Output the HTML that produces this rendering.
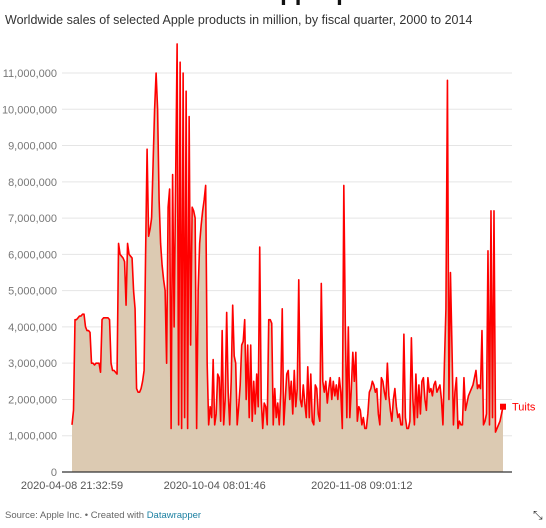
<!DOCTYPE html>
<html><head><meta charset="utf-8">
<style>
body{margin:0;width:546px;height:528px;background:#fff;font-family:"Liberation Sans",sans-serif;overflow:hidden;position:relative}
.title{position:absolute;left:165px;top:-21px;font-size:24px;font-weight:bold;color:#111;white-space:nowrap}
.sub{position:absolute;left:5px;top:13px;font-size:12.5px;color:#333;white-space:nowrap}
.foot{position:absolute;left:5px;top:510px;font-size:9.5px;color:#666}
.foot span{color:#1d81a2}
</style></head><body>
<div class="title">Sales of Apple products</div>
<div class="sub">Worldwide sales of selected Apple products in million, by fiscal quarter, 2000 to 2014</div>
<svg id="c" width="546" height="528" style="position:absolute;left:0;top:0"></svg>
<div class="foot">Source: Apple Inc. • Created with <span>Datawrapper</span></div>
<div style="position:absolute;left:533px;top:508px;font-size:12px;color:#333">⤡</div>
<script>
const values=[1.3,1.7,4.2,4.2,4.25,4.3,4.3,4.35,4.35,4.0,3.9,3.9,3.85,3.0,3.0,2.95,3.0,3.0,3.0,2.75,4.2,4.25,4.25,4.25,4.25,4.2,3.0,2.8,2.8,2.75,2.7,6.3,6.0,5.95,5.9,5.8,4.6,6.3,6.0,5.95,5.9,5.0,4.5,2.3,2.2,2.2,2.3,2.5,2.8,6.0,8.9,6.5,6.7,7.0,8.5,10.0,11.0,10.0,7.5,6.3,5.7,5.3,5.0,3.0,7.3,7.8,1.2,8.2,4.0,8.0,11.8,1.3,11.3,1.2,11.0,1.5,10.5,1.2,9.8,3.5,7.3,7.2,7.0,1.2,5.0,6.3,6.8,7.2,7.5,7.9,3.0,1.3,1.8,
1.5,3.1,1.3,1.6,2.7,2.6,1.4,3.9,1.3,2.0,4.4,2.2,1.3,2.5,4.6,3.2,3.0,1.3,1.8,2.4,3.5,3.6,4.2,2.0,3.5,1.5,3.5,1.4,2.5,1.6,2.7,1.8,6.2,2.0,1.2,1.9,1.8,1.3,4.2,4.2,4.1,1.3,2.3,1.5,1.9,1.3,2.2,4.5,1.3,2.0,2.7,2.8,2.0,2.5,1.6,2.8,1.8,2.3,5.3,2.0,1.8,2.4,1.9,1.5,2.9,1.5,2.7,1.4,1.3,2.4,2.3,1.6,1.4,5.2,2.5,2.2,2.5,1.9,2.3,2.6,2.0,2.5,2.1,2.4,2.0,2.6,2.2,1.2,7.9,4.0,1.5,4.0,1.5,2.3,3.3,2.5,3.3,1.4,1.8,1.7,1.3,1.5,1.2,1.2,1.6,2.2,2.3,2.5,2.4,2.2,2.3,1.6,1.3,2.6,2.5,2.2,2.0,3.0,2.1,1.7,1.4,2.0,2.3,1.8,1.5,1.6,1.3,1.3,3.8,1.5,1.2,1.2,1.4,3.7,2.0,1.3,2.7,1.5,2.4,1.6,2.5,2.6,2.0,1.7,2.6,2.2,2.3,2.1,2.4,2.5,2.2,2.3,2.4,2.0,1.3,3.0,4.5,10.8,2.0,5.5,3.5,1.3,2.2,2.6,1.2,1.4,1.3,1.3,2.6,1.7,1.9,2.1,2.2,2.3,2.4,2.6,2.8,2.3,2.4,2.3,3.9,1.3,1.4,1.6,6.1,1.3,7.2,1.5,7.2,1.1,1.2,1.3,1.4,1.6,1.8];
const yTicks=[0,1,2,3,4,5,6,7,8,9,10,11];
const xLabels=["2020-04-08 21:32:59","2020-10-04 08:01:46","2020-11-08 09:01:12"];
const xLabelIdx=[0,95,193];
const seriesName="Tuits";

const svg=document.getElementById('c'),NS='http://www.w3.org/2000/svg';
const X0=72,X1=503,Y0=472,Y11=73;
const x=i=>X0+i*(X1-X0)/(values.length-1);
const y=v=>Y0-v*(Y0-Y11)/11;
function mk(t,a){const e=document.createElementNS(NS,t);for(const k in a)e.setAttribute(k,a[k]);svg.appendChild(e);return e;}
yTicks.forEach(v=>{
 if(v>0){const g=mk('line',{x1:62,x2:512,y1:y(v),y2:y(v),stroke:'#e5e5e5','stroke-width':1});
 
 }
 const t=mk('text',{x:57,y:y(v)+4,'text-anchor':'end','font-size':11,fill:'#777','font-family':'Liberation Sans, sans-serif'});
 t.textContent=v===0?'0':(v*1000000).toLocaleString('en-US');
 
 
});
let d='M'+x(0)+','+Y0;values.forEach((v,i)=>d+='L'+x(i).toFixed(2)+','+y(v).toFixed(2));d+='L'+x(values.length-1)+','+Y0+'Z';
const area=mk('path',{d:d,fill:'#dccab2'});


let l='';values.forEach((v,i)=>l+=(i?'L':'M')+x(i).toFixed(2)+','+y(v).toFixed(2));
const line=mk('path',{d:l,fill:'none',stroke:'#ff0000','stroke-width':1.6,'stroke-linejoin':'round'});


const base=mk('line',{x1:62,x2:512,y1:Y0,y2:Y0,stroke:'#333','stroke-width':1.2});


xLabels.forEach((s,k)=>{
 const t=mk('text',{x:x(xLabelIdx[k]),y:489,'text-anchor':'middle','font-size':11,fill:'#555','font-family':'Liberation Sans, sans-serif'});
 t.textContent=s;
 
 
});
const li=values.length-1;
const m=mk('rect',{x:x(li)-3,y:y(values[li])-3,width:6,height:6,fill:'#ff0000'});


const lab=mk('text',{x:x(li)+9,y:y(values[li])+4,'font-size':11,fill:'#ff0000','font-family':'Liberation Sans, sans-serif'});
lab.textContent=seriesName;


</script>
</body></html>
